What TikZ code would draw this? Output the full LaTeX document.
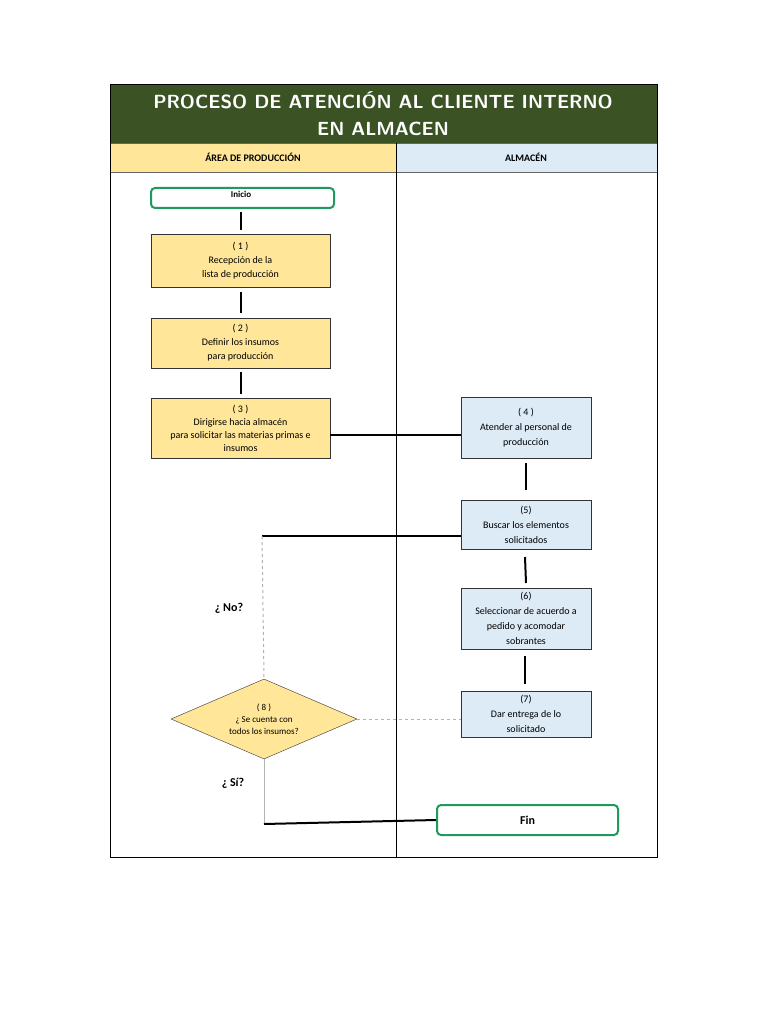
\documentclass[tikz,border=0pt]{standalone}
\usepackage{fontspec}
\setmainfont{Carlito}
\usetikzlibrary{shapes.geometric}
\definecolor{tgreen}{HTML}{3A5224}
\definecolor{ylw}{HTML}{FFE699}
\definecolor{blu}{HTML}{DDEBF7}
\definecolor{grn}{HTML}{1F9A5C}
\tikzset{
 pbox/.style={draw=black!80,fill=ylw,minimum width=179pt,inner sep=1pt,align=center,font=\fontsize{10}{14}\selectfont},
 abox/.style={draw=black!80,fill=blu,minimum width=130pt,inner sep=1pt,align=center,font=\fontsize{10}{15}\selectfont},
 term/.style={draw=grn,line width=2pt,rounded corners=4pt,fill=white},
 conn/.style={line width=2pt,black},
 gconn/.style={line width=1pt,black!30},
 gdash/.style={line width=1pt,black!30,dashed},
}
\begin{document}
\begin{tikzpicture}[x=1pt,y=-1pt]
\useasboundingbox (0,0) rectangle (768,1024);
\fill[white] (0,0) rectangle (768,1024);
\fill[tgreen] (110,85) rectangle (657,143);
\node[text=white,font=\sffamily\bfseries\fontsize{19}{27}\selectfont,align=center] (title) at (383,114) {PROCESO DE ATENCIÓN AL CLIENTE INTERNO\\EN ALMACEN};
\fill[ylw] (110,143) rectangle (396,172);
\fill[blu] (396,143) rectangle (657,172);
\draw[black!60] (110,143) -- (657,143) (110,172) -- (657,172);
\node[font=\bfseries\fontsize{10}{12}\selectfont] (h1) at (253,157) {ÁREA DE PRODUCCIÓN};
\node[font=\bfseries\fontsize{10}{12}\selectfont] (h2) at (526,157) {ALMACÉN};
\draw[line width=1pt] (396,143) -- (396,857);
\draw[line width=1pt] (110,85) rectangle (657,857);

\node[term,minimum width=183pt,minimum height=20pt] (ini) at (242.5,198) {};
\node[font=\bfseries\fontsize{9}{10}\selectfont] at (241,194) {Inicio};
\node[pbox,minimum height=53pt] (b1) at (240.5,260.5) {( 1 )\\Recepción de la\\lista de producción};
\node[pbox,minimum height=50pt] (b2) at (240.5,343) {( 2 )\\Definir los insumos\\para producción};
\node[pbox,minimum height=60pt,font=\fontsize{10}{13}\selectfont] (b3) at (240.5,428) {( 3 )\\Dirigirse hacia almacén\\para solicitar las materias primas e\\insumos};
\node[abox,minimum height=61pt] (b4) at (526,427.5) {( 4 )\\Atender al personal de\\producción};
\node[abox,minimum height=49pt] (b5) at (526,524.5) {(5)\\Buscar los elementos\\solicitados};
\node[abox,minimum height=61pt] (b6) at (526,618.5) {(6)\\Seleccionar de acuerdo a\\pedido y acomodar\\sobrantes};
\node[abox,minimum height=46pt] (b7) at (526,714) {(7)\\Dar entrega de lo\\solicitado};
\node[term,minimum width=181pt,minimum height=30pt,font=\bfseries\fontsize{12}{14}\selectfont] (fin) at (527.5,820) {Fin};
\node[diamond,draw=black!80,fill=ylw,minimum width=186pt,minimum height=80pt,inner sep=0pt,aspect=2.3,align=center,font=\fontsize{9}{12}\selectfont] (d8) at (264,719) {( 8 )\\¿ Se cuenta con\\todos los insumos?};

\draw[conn] (241,212) -- (241,230);
\draw[conn] (241,292) -- (241,313);
\draw[conn] (241,372) -- (241,394);
\draw[conn] (b3.east |- 0,435) -- (b4.west |- 0,435);
\draw[conn] (526,463) -- (526,490);
\draw[conn] (525,557) -- (526,583);
\draw[conn] (525,656) -- (525,684);
\coordinate (c1) at (262,536);
\draw[conn] (b5.west |- c1) -- (c1);
\draw[gdash] (c1) -- (d8.north);
\draw[gdash] (d8.east) -- (b7.west |- d8.east);
\coordinate (c2) at (264,824);
\draw[gconn] (d8.south) -- (c2);
\draw[conn] (c2) -- (fin.west);
\node[font=\bfseries\fontsize{12}{14}\selectfont] (no) at (229,608) {¿ No?};
\node[font=\bfseries\fontsize{12}{14}\selectfont] (si) at (233,783) {¿ Sí?};
\end{tikzpicture}
\end{document}
